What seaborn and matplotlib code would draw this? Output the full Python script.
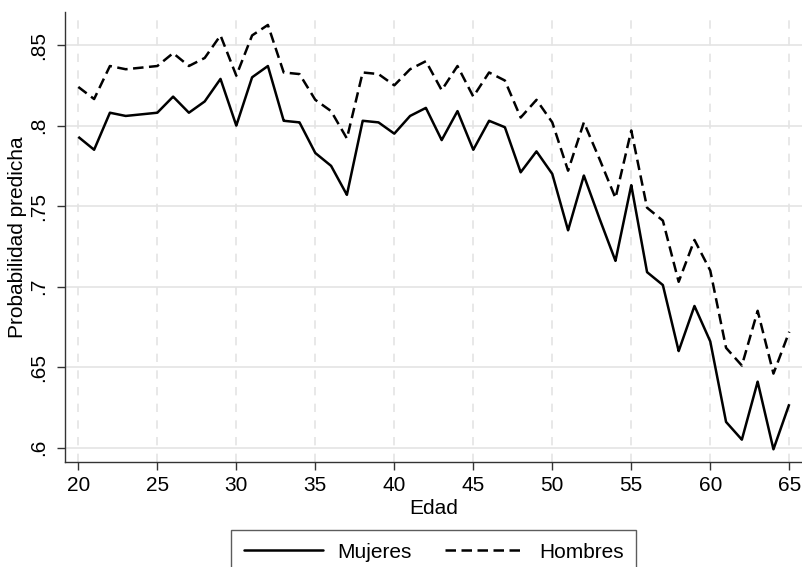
import matplotlib
matplotlib.use("Agg")
import matplotlib.pyplot as plt
import seaborn as sns
import pandas as pd
import numpy as np
from matplotlib.lines import Line2D

edad = list(range(20, 66))
mujeres = [0.793, 0.785, 0.808, 0.806, 0.807, 0.808, 0.818, 0.808, 0.815, 0.829,
           0.800, 0.830, 0.837, 0.803, 0.802, 0.783, 0.775, 0.757, 0.803, 0.802,
           0.795, 0.806, 0.811, 0.791, 0.809, 0.785, 0.803, 0.799, 0.771, 0.784,
           0.770, 0.735, 0.769, 0.742, 0.716, 0.763, 0.709, 0.701, 0.660, 0.688,
           0.666, 0.616, 0.605, 0.641, 0.599, 0.627]
hombres = [0.824, 0.8165, 0.837, 0.835, 0.836, 0.837, 0.845, 0.837, 0.842, 0.856,
           0.831, 0.856, 0.8625, 0.833, 0.832, 0.816, 0.809, 0.792, 0.833, 0.832,
           0.825, 0.835, 0.840, 0.822, 0.837, 0.818, 0.833, 0.828, 0.805, 0.816,
           0.802, 0.772, 0.802, 0.779, 0.755, 0.797, 0.749, 0.741, 0.703, 0.729,
           0.710, 0.662, 0.651, 0.685, 0.646, 0.672]
series_names = ["Mujeres", "Hombres"]
yticks = [0.6, 0.65, 0.7, 0.75, 0.8, 0.85]
ytick_labels = [".6", ".65", ".7", ".75", ".8", ".85"]
xticks = [20, 25, 30, 35, 40, 45, 50, 55, 60, 65]

df = pd.DataFrame({
    "Edad": edad * 2,
    "prob": mujeres + hombres,
    "serie": [series_names[0]] * len(edad) + [series_names[1]] * len(edad),
})

sns.set_style("white")
plt.rcParams["font.family"] = ["Liberation Sans", "DejaVu Sans"]
plt.rcParams["text.color"] = "black"
plt.rcParams["axes.labelcolor"] = "black"
plt.rcParams["xtick.color"] = "black"
plt.rcParams["ytick.color"] = "black"

LW = 1.8
DASH = (4.2, 2.2)

fig = plt.figure(figsize=(8.03, 5.67), dpi=100)
ax = fig.add_axes([0.081, 0.1857, 0.919, 0.7933])

sns.lineplot(data=df, x="Edad", y="prob", hue="serie", style="serie",
             palette=["black", "black"], dashes=[(1, 0), DASH],
             linewidth=LW, ax=ax, legend=False)

ax.set_xlim(19.16, 65.87)
ax.set_ylim(0.5913, 0.8706)
ax.set_xticks(xticks)
ax.set_xticklabels([str(t) for t in xticks])
ax.set_yticks(yticks)
ax.set_yticklabels(ytick_labels, rotation=90, va="center")

for y in yticks:
    ax.axhline(y, color="#e4e4e4", lw=1.2, zorder=0)
for x in xticks:
    ax.axvline(x, color="#e4e4e4", lw=1.2, ls=(0, (5, 5)), zorder=0)

for s in ["top", "right"]:
    ax.spines[s].set_visible(False)
for s in ["left", "bottom"]:
    ax.spines[s].set_color("#333333")
    ax.spines[s].set_linewidth(1.0)

ax.tick_params(axis="both", direction="out", length=6, width=1.0,
               color="#333333", labelcolor="black", labelsize=15,
               left=True, bottom=True)
ax.tick_params(axis="y", pad=6)
ax.tick_params(axis="x", pad=4)
ax.set_xlabel("Edad", fontsize=15, labelpad=3, color="black")
ax.set_ylabel("Probabilidad predicha", fontsize=15, labelpad=2, color="black")

handles = [Line2D([], [], color="black", lw=LW, ls="-"),
           Line2D([], [], color="black", lw=LW, ls=(0, DASH))]
leg = fig.legend(handles, series_names, loc="upper center",
                 bbox_to_anchor=(0.54, 1 - 530 / 567), ncol=2, fontsize=15,
                 frameon=True, fancybox=False, handlelength=3.8,
                 columnspacing=1.6, borderpad=0.6, handletextpad=0.7,
                 borderaxespad=0, labelcolor="black")
leg.get_frame().set_edgecolor("#333333")
leg.get_frame().set_linewidth(1.0)

fig.savefig("out.png", dpi=100)
